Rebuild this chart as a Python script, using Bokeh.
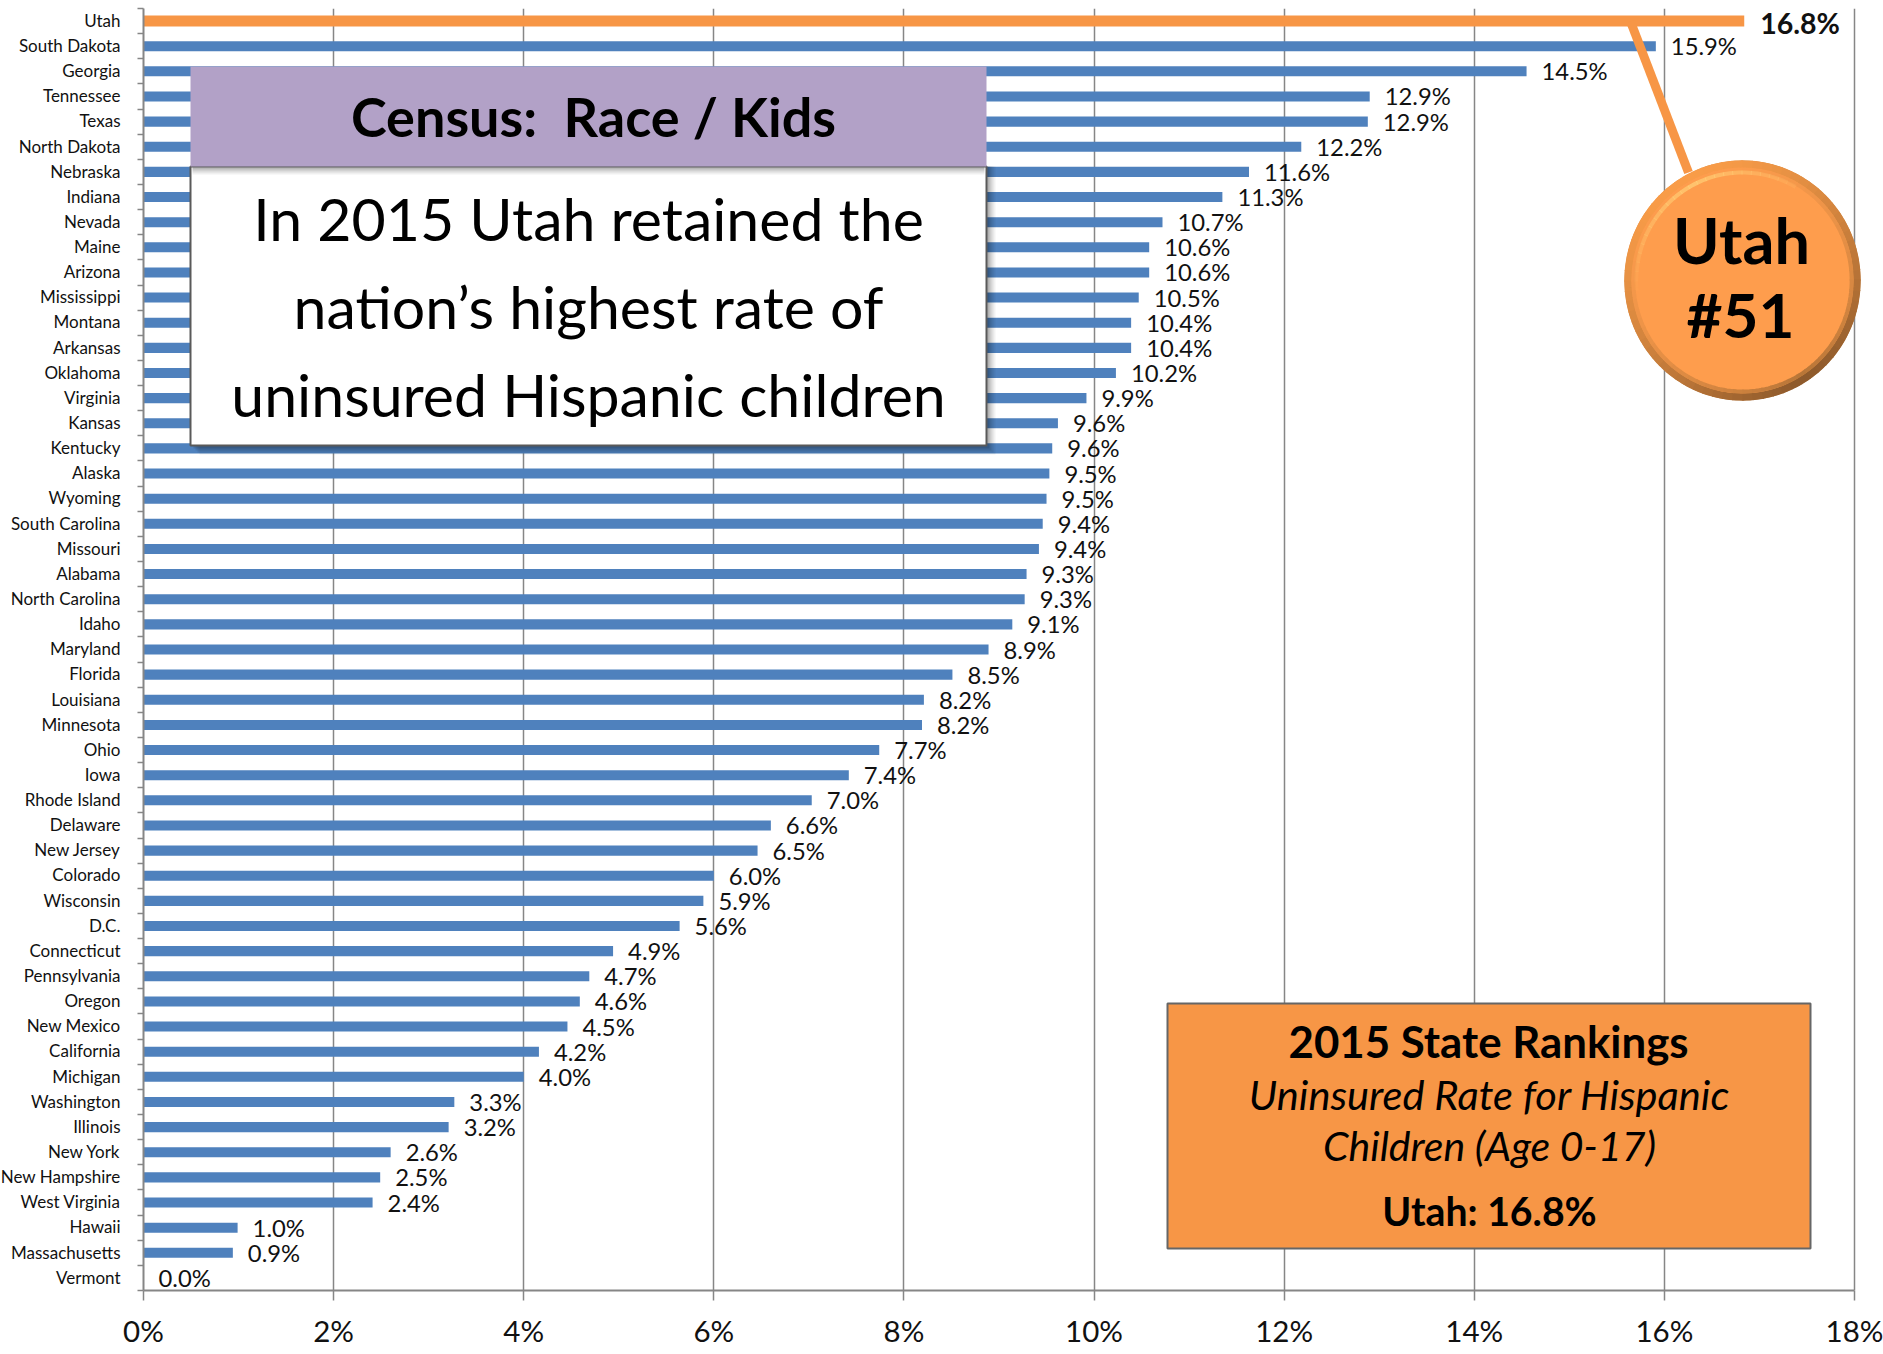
import numpy as np
from bokeh.plotting import figure
from bokeh.models import ColumnDataSource, FixedTicker, Range1d
from bokeh.core.properties import value
from bokeh.embed import file_html
from bokeh.resources import INLINE

states = ["Utah","South Dakota","Georgia","Tennessee","Texas","North Dakota","Nebraska","Indiana","Nevada","Maine",
          "Arizona","Mississippi","Montana","Arkansas","Oklahoma","Virginia","Kansas","Kentucky","Alaska","Wyoming",
          "South Carolina","Missouri","Alabama","North Carolina","Idaho","Maryland","Florida","Louisiana","Minnesota","Ohio",
          "Iowa","Rhode Island","Delaware","New Jersey","Colorado","Wisconsin","D.C.","Connecticut","Pennsylvania","Oregon",
          "New Mexico","California","Michigan","Washington","Illinois","New York","New Hampshire","West Virginia","Hawaii","Massachusetts","Vermont"]
rates = [16.84,15.91,14.55,12.90,12.88,12.18,11.63,11.35,10.72,10.58,
         10.58,10.47,10.39,10.39,10.23,9.92,9.62,9.56,9.53,9.50,
         9.46,9.42,9.29,9.27,9.14,8.89,8.51,8.21,8.19,7.74,
         7.42,7.03,6.60,6.46,6.00,5.89,5.64,4.94,4.69,4.59,
         4.46,4.16,4.00,3.27,3.21,2.60,2.49,2.41,0.99,0.94,0.0]
rate_labels = ["16.8%","15.9%","14.5%","12.9%","12.9%","12.2%","11.6%","11.3%","10.7%","10.6%",
               "10.6%","10.5%","10.4%","10.4%","10.2%","9.9%","9.6%","9.6%","9.5%","9.5%",
               "9.4%","9.4%","9.3%","9.3%","9.1%","8.9%","8.5%","8.2%","8.2%","7.7%",
               "7.4%","7.0%","6.6%","6.5%","6.0%","5.9%","5.6%","4.9%","4.7%","4.6%",
               "4.5%","4.2%","4.0%","3.3%","3.2%","2.6%","2.5%","2.4%","1.0%","0.9%","0.0%"]
x_ticks = [0,2,4,6,8,10,12,14,16,18]
x_tick_labels = ["0%","2%","4%","6%","8%","10%","12%","14%","16%","18%"]

FONT = value("Lato")
INK = "#111111"
ORANGE = "#F79646"
BLUE = "#4F81BD"
GRID = "#868686"

W, H = 1883, 1354
SHIFT = 3                     # the canvas starts this far left of the page edge
L, T, B = 143, 8, 64          # page position of the plot area
PX = 1711 / 18.0              # pixels per percentage point
PY = (H - T - B) / len(states)
p = figure(width=W + SHIFT, height=H, output_backend="svg", toolbar_location=None,
           x_range=Range1d(0, (W - L) / PX), y_range=Range1d(len(states), 0),
           min_border_left=L + SHIFT, min_border_right=0, min_border_top=T, min_border_bottom=B)
p.styles = {"position": "absolute", "left": f"-{SHIFT}px", "top": "0px"}
p.outline_line_color = None
p.background_fill_color = "white"
p.ygrid.visible = False
p.xgrid.grid_line_color = GRID
p.xgrid.grid_line_width = 1.5

ax = p.xaxis[0]
ax.ticker = FixedTicker(ticks=x_ticks)
ax.bounds = (0, 18)
ax.major_label_overrides = dict(zip(x_ticks, x_tick_labels))
ax.axis_line_color = GRID; ax.axis_line_width = 2
ax.major_tick_line_color = GRID; ax.major_tick_line_width = 1.5
ax.major_tick_in = 0; ax.major_tick_out = 10
ax.minor_tick_line_color = None
ax.major_label_text_font = "Lato"
ax.major_label_text_font_size = "29.5px"
ax.major_label_text_color = INK
ax.major_label_standoff = 12

centers = [i + 0.5 for i in range(len(states))]
label_pos = [round(i + 0.47, 2) for i in range(len(states))]
ay = p.yaxis[0]
ay.ticker = FixedTicker(ticks=label_pos, minor_ticks=list(range(len(states) + 1)))
ay.major_label_overrides = dict(zip(label_pos, states))
ay.axis_line_color = GRID; ay.axis_line_width = 2
ay.major_tick_line_color = None
ay.major_tick_in = 0; ay.major_tick_out = 0
ay.minor_tick_line_color = GRID; ay.minor_tick_line_width = 1.5
ay.minor_tick_in = 0; ay.minor_tick_out = 6
ay.major_label_text_font = "Lato"
ay.major_label_text_font_size = "17px"
ay.major_label_text_color = INK
ay.major_label_standoff = 17

def X(px): return (np.asarray(px, float) - L) / PX
def Y(py): return (np.asarray(py, float) - T) / PY

# bars
src = ColumnDataSource(dict(y=centers[1:], r=rates[1:], t=rate_labels[1:]))
p.hbar(y="y", left=0, right="r", height=0.40, source=src, fill_color=BLUE, line_color=None)
p.hbar(y=[centers[0]], left=0, right=[rates[0]], height=0.44, fill_color=ORANGE, line_color=None)

# data labels
p.text(x="r", y="y", text="t", source=src, x_offset=15, y_offset=0, text_font=FONT, text_font_size="23.8px",
       text_color=INK, text_baseline="middle", text_align="left")
p.text(x=[rates[0]], y=[centers[0]], text=[rate_labels[0]], x_offset=16, y_offset=2, text_font=FONT,
       text_font_size="28.5px", text_font_style="bold", text_color=INK, text_baseline="middle")

def box(x0, y0, x1, y1, **kw):
    p.quad(left=[X(x0)], right=[X(x1)], top=[Y(y0)], bottom=[Y(y1)], **kw)

def label(cx, mid, s, size, style="normal", align="center"):
    p.text(x=[X(cx)], y=[Y(mid)], text=[s], text_font=FONT, text_font_size=size, text_font_style=style,
           text_color="black", text_align=align, text_baseline="middle")

# shadow of the census panel
for d, a in [(9, .05), (7, .07), (5, .09), (3, .12)]:
    box(190 + d, 166, 986 + d, 445 + d, fill_color="black", fill_alpha=a, line_color=None)
box(190, 166, 986, 445, fill_color="white", line_color="#595959", line_width=2)
for d, a in [(8, .06), (6, .08), (4, .10), (2, .14)]:
    box(192, 167, 984, 166 + d, fill_color="black", fill_alpha=a, line_color=None)
box(190, 66, 986, 166, fill_color="#B2A1C7", line_color=None)
label(593, 116, "Census: \u00a0Race / Kids", "54px", "bold")
label(588, 218, "In 2015 Utah retained the", "59px")
label(588, 306, "nation\u2019s highest rate of", "59px")
label(588, 394, "uninsured Hispanic children", "59px")

# rankings panel
box(1167, 1003, 1810, 1248, fill_color=ORANGE, line_color="#666666", line_width=2)
label(1488, 1040, "2015 State Rankings", "43.8px", "bold")
label(1489, 1093, "Uninsured Rate for Hispanic", "41.6px", "italic")
label(1489, 1145, "Children (Age 0-17)", "41px", "italic")
label(1489, 1209.5, "Utah: 16.8%", "39.2px", "bold")

# callout
p.line(x=X([1630, 1688]), y=Y([21, 172]), line_color=ORANGE, line_width=9)

# badge
CX, CY, RX, RY = 1742, 280, 118, 120
p.ellipse(x=[X(CX)], y=[Y(CY)], width=[2 * RX / PX], height=[2 * RY / PY], fill_color="#C8803A", line_color=None)
ang = np.radians(np.arange(0, 360, 5))
step = np.radians(5.5)
def ring_path(a, f):
    t = np.linspace(a, a + step, 4)
    return (X(CX + f * RX * np.cos(t)).tolist(), Y(CY - f * RY * np.sin(t)).tolist())
def mix(c0, c1, t):
    return "#%02x%02x%02x" % tuple(int(round(a + (b - a) * t)) for a, b in zip(c0, c1))
xs, ys, cols = [], [], []
for a in ang:
    x_, y_ = ring_path(a, 0.97)
    t = ((1 + np.cos(a - np.radians(120))) / 2) ** 0.7
    xs.append(x_); ys.append(y_); cols.append(mix((0x8E, 0x5A, 0x2C), (0xF9, 0x9C, 0x48), t))
p.multi_line(xs=xs, ys=ys, line_color=cols, line_width=7.5)
p.ellipse(x=[X(CX)], y=[Y(CY)], width=[2 * 0.94 * RX / PX], height=[2 * 0.94 * RY / PY], fill_color="#FE9D4D", line_color=None)
xs, ys, cols = [], [], []
for a in ang:
    x_, y_ = ring_path(a, 0.925)
    t = ((1 + np.cos(a - np.radians(120))) / 2) ** 0.5
    xs.append(x_); ys.append(y_); cols.append(mix((0xB8, 0x76, 0x38), (0xFE, 0x9D, 0x4D), t))
p.multi_line(xs=xs, ys=ys, line_color=cols, line_width=4)
ha = np.radians(np.arange(60, 185, 5))
xs, ys, alphas = [], [], []
for a in ha:
    x_, y_ = ring_path(a, 0.9)
    xs.append(x_); ys.append(y_); alphas.append(float(np.clip(1 - abs(a - np.radians(115)) / np.radians(70), 0.05, 1) * 0.7))
p.multi_line(xs=xs, ys=ys, line_color="#FFD27A", line_alpha=alphas, line_width=4)
label(1741, 238.5, "Utah", "63px", "bold")
label(1740, 313.5, "#51", "62px", "bold")

open("out.html", "w").write(file_html(p, INLINE))
